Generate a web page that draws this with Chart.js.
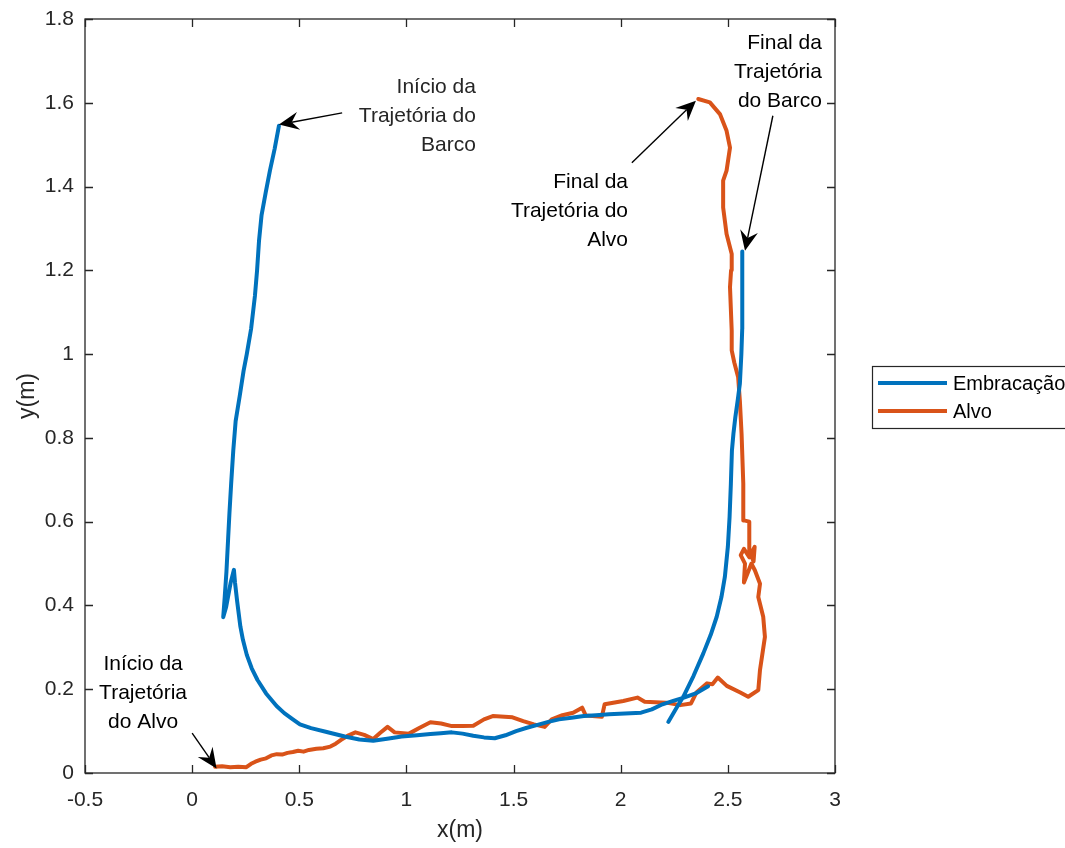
<!DOCTYPE html>
<html>
<head>
<meta charset="utf-8">
<script src="https://cdn.jsdelivr.net/npm/chart.js@4.4.1/dist/chart.umd.min.js"></script>
<style>
  body { margin: 0; background: #fff; }
  canvas { display: block; }
</style>
</head>
<body>
<canvas id="grafico" width="1065" height="848"></canvas>
<script>
// Trajetória da embarcação (null = trecho interrompido)
const barcoX = [0.405, 0.385, 0.363, 0.343, 0.324, 0.312, 0.303, 0.293, 0.275, 0.255, 0.24, 0.222, 0.203, 0.192, 0.182, 0.174, 0.168, 0.16, 0.152, 0.145,
  0.158, 0.18, 0.195, 0.2, 0.21, 0.225, 0.237, 0.255, 0.278, 0.305, 0.345, 0.394, 0.43, 0.47, 0.503, 0.555, 0.628, 0.712, 0.78, 0.845,
  0.91, 0.978, 1.05, 1.112, 1.16, 1.212, 1.262, 1.312, 1.362, 1.412, 1.462, 1.512, 1.562, 1.612, 1.662, 1.712, 1.77, 1.828, 1.885, 1.945,
  2.02, 2.095, 2.145, 2.195, 2.245, 2.295, 2.35, 2.408, null,
  2.222, 2.26, 2.292, 2.34, 2.385, 2.42, 2.448, 2.47, 2.486, 2.5, 2.508, 2.514, 2.519, 2.526, 2.535, 2.546, 2.556, 2.563, 2.567, 2.568, 2.568, 2.567, 2.566];
const barcoY = [1.545, 1.49, 1.438, 1.385, 1.332, 1.27, 1.2, 1.139, 1.06, 1.0, 0.96, 0.9, 0.84, 0.77, 0.69, 0.62, 0.56, 0.48, 0.42, 0.372,
  0.395, 0.455, 0.485, 0.455, 0.41, 0.35, 0.318, 0.282, 0.25, 0.222, 0.19, 0.16, 0.143, 0.128, 0.116, 0.107, 0.098, 0.087, 0.08, 0.077,
  0.082, 0.087, 0.09, 0.093, 0.095, 0.097, 0.094, 0.089, 0.085, 0.083, 0.09, 0.1, 0.108, 0.115, 0.122, 0.128, 0.132, 0.136, 0.138, 0.14,
  0.142, 0.144, 0.152, 0.164, 0.172, 0.18, 0.19, 0.207, null,
  0.122, 0.155, 0.182, 0.232, 0.285, 0.33, 0.373, 0.42, 0.468, 0.54, 0.611, 0.69, 0.77, 0.81, 0.85, 0.89, 0.929, 1.0, 1.06, 1.1, 1.16, 1.2, 1.245];

// Trajetória do alvo
const alvoX = [0.107, 0.14, 0.178, 0.215, 0.253, 0.275, 0.295, 0.32, 0.345, 0.37, 0.395, 0.42, 0.445, 0.47, 0.495, 0.52, 0.545, 0.58, 0.612, 0.645,
  0.67, 0.695, 0.73, 0.762, 0.803, 0.845, 0.878, 0.912, 0.945, 1.012, 1.062, 1.112, 1.162, 1.212, 1.262, 1.312, 1.362, 1.403, 1.495, 1.545,
  1.595, 1.645, 1.678, 1.728, 1.778, 1.82, 1.837, 1.912, 1.925, 2.012, 2.078, 2.112, 2.212, 2.278, 2.328, 2.353, 2.403, 2.428, 2.453, 2.495,
  2.558, 2.595, 2.642, 2.65, 2.673, 2.665, 2.642, 2.65, 2.626, 2.61, 2.575, 2.58, 2.56, 2.575, 2.6, 2.625, 2.62, 2.6, 2.6, 2.575,
  2.572, 2.568, 2.564, 2.556, 2.548, 2.53, 2.518, 2.518, 2.51, 2.515, 2.518, 2.494, 2.478, 2.478, 2.494, 2.51, 2.494, 2.463, 2.416, 2.362];
const alvoY = [0.015, 0.016, 0.014, 0.015, 0.014, 0.022, 0.027, 0.032, 0.035, 0.042, 0.045, 0.044, 0.048, 0.05, 0.053, 0.051, 0.055, 0.058, 0.059, 0.063,
  0.07, 0.079, 0.09, 0.097, 0.091, 0.081, 0.096, 0.11, 0.097, 0.094, 0.108, 0.121, 0.118, 0.112, 0.112, 0.113, 0.128, 0.136, 0.133, 0.124,
  0.116, 0.11, 0.128, 0.138, 0.144, 0.156, 0.137, 0.134, 0.164, 0.172, 0.18, 0.17, 0.168, 0.162, 0.166, 0.192, 0.214, 0.212, 0.228, 0.208,
  0.192, 0.182, 0.198, 0.246, 0.325, 0.373, 0.42, 0.452, 0.484, 0.5, 0.455, 0.5, 0.52, 0.535, 0.515, 0.54, 0.505, 0.53, 0.6, 0.603,
  0.691, 0.75, 0.81, 0.889, 0.945, 0.98, 1.009, 1.056, 1.16, 1.2, 1.239, 1.287, 1.35, 1.414, 1.438, 1.493, 1.533, 1.573, 1.601, 1.609];

const xTicks = [-0.5, 0, 0.5, 1, 1.5, 2, 2.5, 3];
const yTicks = [0, 0.2, 0.4, 0.6, 0.8, 1, 1.2, 1.4, 1.6, 1.8];
const seriesNames = ['Embracação', 'Alvo'];
const seriesColors = ['#0072BD', '#D95319'];

// textos com seta (coordenadas em metros)
const notas = [
  { linhas: ['Início da', 'Trajetória do', 'Barco'], x: 1.3245, y: 1.624, align: 'right', cauda: [0.70, 1.576], ponta: [0.405, 1.548] },
  { linhas: ['Final da', 'Trajetória do', 'Alvo'], x: 2.034, y: 1.397, align: 'right', cauda: [2.052, 1.457], ponta: [2.351, 1.605] },
  { linhas: ['Final da', 'Trajetória', 'do Barco'], x: 2.939, y: 1.7287, align: 'right', cauda: [2.71, 1.569], ponta: [2.58, 1.247] },
  { linhas: ['Início da', 'Trajetória', 'do Alvo'], x: -0.229, y: 0.2456, align: 'center', cauda: [0.0, 0.095], ponta: [0.114, 0.011] }
];

const FONTE = "'Liberation Sans', Arial, Helvetica, sans-serif";
const COR_EIXO = '#262626';

const toPoints = (xs, ys) => xs.map((x, i) => ({ x: x, y: ys[i] }));
const fmt = v => String(+Number(v).toFixed(2));

function seta(ctx, x0, y0, x1, y1) {
  const dx = x1 - x0, dy = y1 - y0;
  const len = Math.hypot(dx, dy);
  const ux = dx / len, uy = dy / len;
  const nx = -uy, ny = ux;
  const L = 20, W = 9;
  const bx = x1 - ux * L, by = y1 - uy * L;
  const mx = x1 - ux * L * 0.65, my = y1 - uy * L * 0.65;
  ctx.strokeStyle = '#000';
  ctx.lineWidth = 1.4;
  ctx.beginPath();
  ctx.moveTo(x0, y0);
  ctx.lineTo(mx, my);
  ctx.stroke();
  ctx.fillStyle = '#000';
  ctx.beginPath();
  ctx.moveTo(x1, y1);
  ctx.lineTo(bx + nx * W, by + ny * W);
  ctx.lineTo(mx, my);
  ctx.lineTo(bx - nx * W, by - ny * W);
  ctx.closePath();
  ctx.fill();
}

const extras = {
  id: 'extras',
  afterDraw(chart) {
    const { ctx, chartArea: a, scales: { x, y } } = chart;
    ctx.save();
    // caixa e marcas internas
    ctx.strokeStyle = COR_EIXO;
    ctx.lineWidth = 1.3;
    ctx.strokeRect(a.left, a.top, a.right - a.left, a.bottom - a.top);
    ctx.beginPath();
    xTicks.forEach(v => {
      const px = Math.round(x.getPixelForValue(v)) + 0.5;
      ctx.moveTo(px, a.bottom); ctx.lineTo(px, a.bottom - 8);
      ctx.moveTo(px, a.top); ctx.lineTo(px, a.top + 8);
    });
    yTicks.forEach(v => {
      const py = Math.round(y.getPixelForValue(v)) + 0.5;
      ctx.moveTo(a.left, py); ctx.lineTo(a.left + 8, py);
      ctx.moveTo(a.right, py); ctx.lineTo(a.right - 8, py);
    });
    ctx.stroke();

    // anotações
    ctx.font = '21px ' + FONTE;
    ctx.fillStyle = COR_EIXO;
    ctx.textBaseline = 'alphabetic';
    notas.forEach(n => {
      ctx.textAlign = n.align;
      const tx = x.getPixelForValue(n.x), ty = y.getPixelForValue(n.y);
      n.linhas.forEach((l, i) => ctx.fillText(l, tx, ty + i * 29));
      seta(ctx, x.getPixelForValue(n.cauda[0]), y.getPixelForValue(n.cauda[1]),
        x.getPixelForValue(n.ponta[0]), y.getPixelForValue(n.ponta[1]));
    });

    // legenda
    const lx = a.right + 37, ly = 366;
    ctx.fillStyle = '#fff';
    ctx.fillRect(lx, ly, 220, 62);
    ctx.strokeStyle = COR_EIXO;
    ctx.lineWidth = 1.2;
    ctx.strokeRect(lx + 0.5, ly + 0.5, 220, 62);
    ctx.font = '20px ' + FONTE;
    ctx.textAlign = 'left';
    ctx.textBaseline = 'middle';
    seriesNames.forEach((nome, i) => {
      const yy = ly + 17 + i * 28;
      ctx.strokeStyle = seriesColors[i];
      ctx.lineWidth = 4;
      ctx.beginPath();
      ctx.moveTo(lx + 6, yy); ctx.lineTo(lx + 75, yy);
      ctx.stroke();
      ctx.fillStyle = '#000';
      ctx.fillText(nome, lx + 81, yy + 1);
    });
    ctx.restore();
  }
};

new Chart(document.getElementById('grafico'), {
  type: 'scatter',
  data: {
    datasets: [
      { label: seriesNames[0], data: toPoints(barcoX, barcoY), borderColor: seriesColors[0] },
      { label: seriesNames[1], data: toPoints(alvoX, alvoY), borderColor: seriesColors[1] }
    ].map(d => Object.assign(d, { showLine: true, pointRadius: 0, borderWidth: 4, spanGaps: false, tension: 0, borderJoinStyle: 'round', borderCapStyle: 'round' }))
  },
  options: {
    responsive: false,
    animation: false,
    devicePixelRatio: 1,
    layout: { padding: { left: 0, top: 19, right: 230, bottom: 0 } },
    plugins: { legend: { display: false }, tooltip: { enabled: false } },
    scales: {
      x: {
        type: 'linear', min: -0.5, max: 3,
        afterBuildTicks: s => { s.ticks = xTicks.map(v => ({ value: v })); },
        afterFit: s => { s.height = 75; s.paddingLeft = 0; s.paddingRight = 0; },
        grid: { display: false, drawTicks: false },
        border: { display: false },
        ticks: { callback: fmt, color: COR_EIXO, padding: 15, maxRotation: 0, font: { size: 21, family: FONTE } },
        title: { display: true, text: 'x(m)', color: COR_EIXO, font: { size: 23, family: FONTE }, padding: { top: 0, bottom: 4 } }
      },
      y: {
        type: 'linear', min: 0, max: 1.8,
        afterBuildTicks: s => { s.ticks = yTicks.map(v => ({ value: v })); },
        afterFit: s => { s.width = 85; s.paddingTop = 0; s.paddingBottom = 0; },
        grid: { display: false, drawTicks: false },
        border: { display: false },
        ticks: { callback: fmt, color: COR_EIXO, padding: 11, font: { size: 21, family: FONTE } },
        title: { display: true, text: 'y(m)', color: COR_EIXO, font: { size: 23, family: FONTE }, padding: { top: 14, bottom: 0 } }
      }
    }
  },
  plugins: [extras]
});
</script>
</body>
</html>
